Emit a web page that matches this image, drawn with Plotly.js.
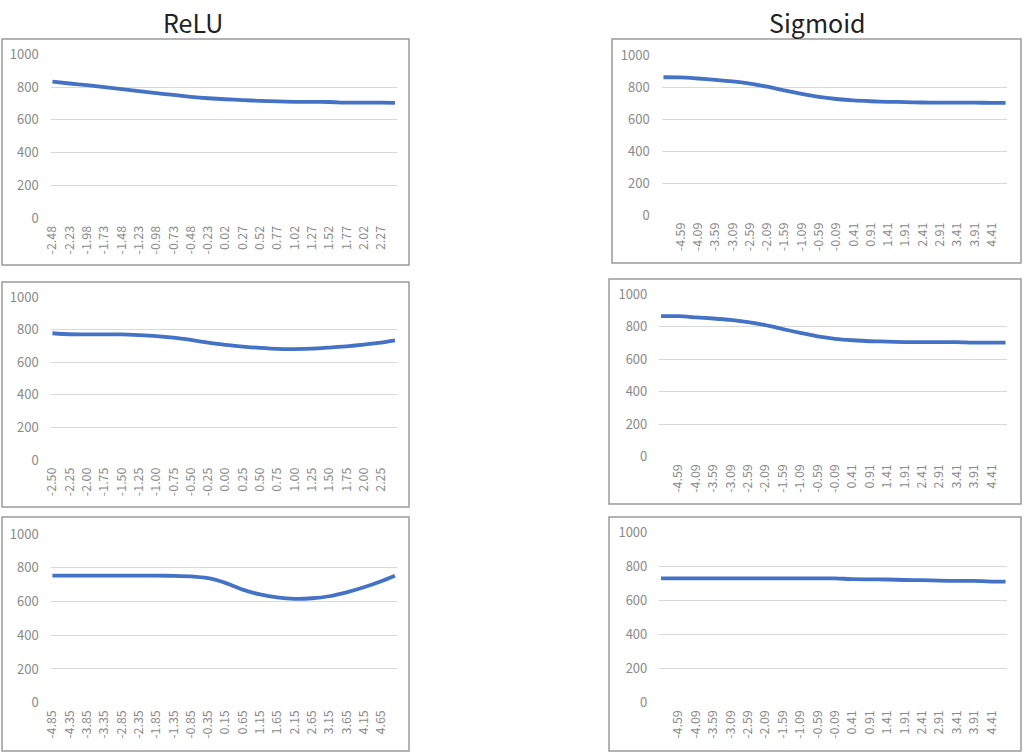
<!DOCTYPE html>
<html>
<head>
<meta charset="utf-8">
<script src="https://cdn.plot.ly/plotly-3.0.1.min.js"></script>
<style>
  html, body { margin: 0; padding: 0; background: #fff; }
  #chart { width: 1024px; height: 752px; }
</style>
</head>
<body>
<div id="chart"></div>
<script>
// Tick labels of each panel (x values).
const relu1Ticks = ['-2.48', '-2.23', '-1.98', '-1.73', '-1.48', '-1.23', '-0.98', '-0.73', '-0.48', '-0.23', '0.02', '0.27', '0.52', '0.77', '1.02', '1.27', '1.52', '1.77', '2.02', '2.27'];
const relu2Ticks = ['-2.50', '-2.25', '-2.00', '-1.75', '-1.50', '-1.25', '-1.00', '-0.75', '-0.50', '-0.25', '0.00', '0.25', '0.50', '0.75', '1.00', '1.25', '1.50', '1.75', '2.00', '2.25'];
const relu3Ticks = ['-4.85', '-4.35', '-3.85', '-3.35', '-2.85', '-2.35', '-1.85', '-1.35', '-0.85', '-0.35', '0.15', '0.65', '1.15', '1.65', '2.15', '2.65', '3.15', '3.65', '4.15', '4.65'];
const sigmoidTicks = ['-4.59', '-4.09', '-3.59', '-3.09', '-2.59', '-2.09', '-1.59', '-1.09', '-0.59', '-0.09', '0.41', '0.91', '1.41', '1.91', '2.41', '2.91', '3.41', '3.91', '4.41'];

// Points: x values and y values of each line.
const relu1X = [-2.48, -2.23, -1.98, -1.73, -1.48, -1.23, -0.98, -0.73, -0.48, -0.23, 0.02, 0.27, 0.52, 0.77, 1.02, 1.27, 1.52, 1.77, 2.02, 2.27, 2.47];
const relu1Y = [833, 822, 812, 800, 788, 775, 763, 752, 741, 732, 726, 721, 716, 713, 710, 710, 709, 705, 705, 705, 704];

const relu2X = [-2.50, -2.25, -2.00, -1.75, -1.50, -1.25, -1.00, -0.75, -0.50, -0.25, 0.00, 0.25, 0.50, 0.75, 1.00, 1.25, 1.50, 1.75, 2.00, 2.25, 2.45];
const relu2Y = [779, 773, 772, 772, 772, 768, 762, 752, 738, 721, 707, 697, 689, 683, 682, 684, 691, 699, 709, 721, 735];

const relu3X = [-4.85, -4.35, -3.85, -3.35, -2.85, -2.35, -1.85, -1.35, -0.85, -0.35, 0.15, 0.65, 1.15, 1.65, 2.15, 2.65, 3.15, 3.65, 4.15, 4.65, 5.05];
const relu3Y = [753, 753, 753, 753, 753, 753, 753, 752, 749, 738, 710, 670, 642, 624, 616, 619, 631, 654, 684, 720, 753];

const sigmoidX = [-5.09, -4.59, -4.09, -3.59, -3.09, -2.59, -2.09, -1.59, -1.09, -0.59, -0.09, 0.41, 0.91, 1.41, 1.91, 2.41, 2.91, 3.41, 3.91, 4.41, 4.81];
const sigmoid1Y = [861, 860, 853, 845, 835, 821, 802, 779, 757, 738, 725, 716, 711, 707, 706, 703, 702, 702, 702, 701, 701];
const sigmoid2Y = [866, 865, 858, 851, 842, 828, 810, 786, 762, 741, 726, 717, 711, 709, 706, 706, 706, 706, 702, 702, 702];
const sigmoid3Y = [730, 730, 730, 730, 730, 730, 730, 730, 730, 730, 730, 725, 724, 723, 720, 719, 716, 715, 715, 711, 711];

const yTicks = [0, 200, 400, 600, 800, 1000];

const W = 1024, H = 752;
const font = '"Noto Sans CJK JP", "Noto Sans", sans-serif';

// Each panel: data, x range, plot area and frame in pixels.
const panels = [
  { x: relu1X, y: relu1Y, ticks: relu1Ticks, range: [-2.505, 2.495], plot: [50.7, 396.7, 54.3, 218.3], frame: [2, 409, 39, 265] },
  { x: sigmoidX, y: sigmoid1Y, ticks: sigmoidTicks, range: [-5.14, 4.86], plot: [661.7, 1007.3, 55, 215], frame: [612, 1021, 39, 263] },
  { x: relu2X, y: relu2Y, ticks: relu2Ticks, range: [-2.525, 2.475], plot: [50.7, 396.7, 297.3, 460], frame: [2, 409, 282, 507] },
  { x: sigmoidX, y: sigmoid2Y, ticks: sigmoidTicks, range: [-5.14, 4.86], plot: [659.3, 1007.3, 294.3, 456.7], frame: [609, 1021, 279, 504] },
  { x: relu3X, y: relu3Y, ticks: relu3Ticks, range: [-4.90, 5.10], plot: [50.7, 396.7, 534, 702.7], frame: [2, 409, 517, 751] },
  { x: sigmoidX, y: sigmoid3Y, ticks: sigmoidTicks, range: [-5.14, 4.86], plot: [659.3, 1007.3, 532.3, 702.7], frame: [609, 1021, 517, 751] }
];

const traces = [];
const layout = {
  width: W,
  height: H,
  margin: { l: 0, r: 0, t: 0, b: 0 },
  paper_bgcolor: '#ffffff',
  plot_bgcolor: '#ffffff',
  showlegend: false,
  font: { family: font, color: '#8a8a8a', size: 12 },
  shapes: [],
  annotations: [
    { text: 'ReLU', x: 193 / W, y: 1 - 22 / H, xref: 'paper', yref: 'paper', showarrow: false, xanchor: 'center', yanchor: 'middle', font: { family: font, size: 25, color: '#222222' } },
    { text: 'Sigmoid', x: 817 / W, y: 1 - 22 / H, xref: 'paper', yref: 'paper', showarrow: false, xanchor: 'center', yanchor: 'middle', font: { family: font, size: 25, color: '#222222' } }
  ]
};

panels.forEach((p, i) => {
  const n = i === 0 ? '' : String(i + 1);
  const [x0, x1, y0, y1] = p.plot;

  traces.push({
    x: p.x, y: p.y, type: 'scatter', mode: 'lines',
    xaxis: 'x' + n, yaxis: 'y' + n,
    line: { color: '#4472C4', width: 3.8, shape: 'spline', smoothing: 0.6 },
    hoverinfo: 'skip'
  });

  layout['xaxis' + n] = {
    domain: [x0 / W, x1 / W],
    anchor: 'y' + n,
    range: p.range,
    tickvals: p.ticks.map(parseFloat),
    ticktext: p.ticks,
    tickangle: -90,
    ticks: '',
    ticklabelstandoff: 4,
    tickfont: { family: font, size: 12.5, color: '#8a8a8a' },
    showgrid: false,
    zeroline: false,
    showline: false,
    fixedrange: true
  };
  layout['yaxis' + n] = {
    domain: [1 - y1 / H, 1 - y0 / H],
    anchor: 'x' + n,
    range: [0, 1000],
    tickvals: yTicks,
    ticks: '',
    ticklabelstandoff: 11,
    tickfont: { family: font, size: 13, color: '#8a8a8a' },
    showgrid: true,
    gridcolor: '#d9d9d9',
    gridwidth: 1,
    zeroline: false,
    showline: false,
    fixedrange: true
  };

  // Gray frame around the chart, like the spreadsheet chart area.
  const [fx0, fx1, fy0, fy1] = p.frame;
  layout.shapes.push({
    type: 'rect', xref: 'paper', yref: 'paper',
    x0: fx0 / W, x1: fx1 / W, y0: 1 - fy1 / H, y1: 1 - fy0 / H,
    line: { color: '#9a9a9a', width: 1.5 }, fillcolor: 'rgba(0,0,0,0)', layer: 'below'
  });
});

Plotly.newPlot('chart', traces, layout, { displayModeBar: false, staticPlot: true });
</script>
</body>
</html>
